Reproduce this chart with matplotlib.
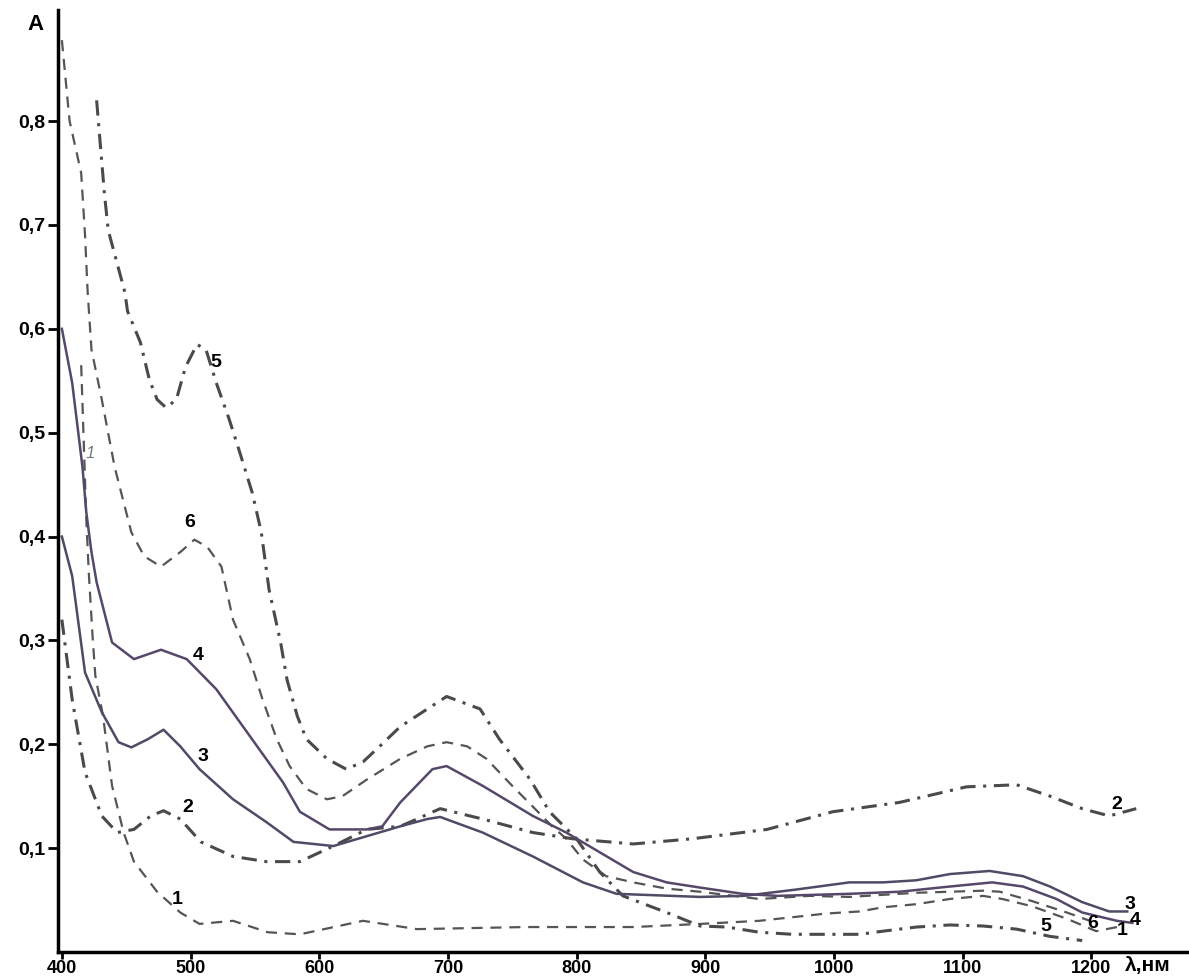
import matplotlib
matplotlib.use("Agg")
import matplotlib.pyplot as plt

plt.rcParams['font.family'] = ['Liberation Sans', 'DejaVu Sans']

# spectra, wavelength in nm / absorbance
wl1 = [415, 419, 421, 424, 426, 432, 439, 448, 456, 474, 492, 507, 533, 560, 585,
       634, 676, 760, 844, 896, 942, 994, 1020, 1038, 1064, 1090, 1116, 1131, 1154,
       1181, 1204, 1220]
a1 = [0.565, 0.416, 0.363, 0.301, 0.266, 0.227, 0.160, 0.115, 0.087, 0.058, 0.038,
      0.027, 0.030, 0.019, 0.017, 0.030, 0.022, 0.024, 0.024, 0.027, 0.030, 0.037,
      0.039, 0.043, 0.046, 0.051, 0.054, 0.051, 0.044, 0.032, 0.020, 0.024]

wl2 = [400, 408, 418, 431, 443, 456, 469, 479, 492, 508, 533, 559, 585, 611, 637,
       663, 676, 694, 727, 766, 797, 844, 890, 948, 999, 1051, 1103, 1142, 1168,
       1193, 1214, 1235]
a2 = [0.320, 0.243, 0.173, 0.131, 0.115, 0.118, 0.131, 0.136, 0.128, 0.106, 0.092,
      0.087, 0.087, 0.102, 0.118, 0.121, 0.128, 0.138, 0.128, 0.115, 0.109, 0.104,
      0.109, 0.118, 0.135, 0.144, 0.159, 0.161, 0.150, 0.138, 0.131, 0.138]

wl3 = [400, 408, 418, 431, 444, 454, 467, 479, 492, 507, 533, 559, 580, 611, 663,
       684, 694, 727, 766, 805, 831, 896, 930, 970, 1012, 1038, 1064, 1090, 1121,
       1147, 1168, 1193, 1214, 1228]
a3 = [0.400, 0.362, 0.269, 0.231, 0.202, 0.197, 0.205, 0.214, 0.198, 0.176, 0.147,
      0.125, 0.106, 0.102, 0.121, 0.128, 0.130, 0.115, 0.092, 0.067, 0.056, 0.053,
      0.054, 0.060, 0.067, 0.067, 0.069, 0.075, 0.078, 0.073, 0.063, 0.048, 0.039,
      0.039]

wl4 = [400, 408, 416, 419, 423, 427, 439, 456, 477, 497, 520, 546, 572, 585, 608,
       637, 649, 663, 688, 699, 727, 766, 792, 818, 844, 870, 896, 929, 956, 1012,
       1051, 1090, 1123, 1147, 1173, 1193, 1220, 1232]
a4 = [0.600, 0.548, 0.467, 0.423, 0.385, 0.356, 0.298, 0.282, 0.291, 0.282, 0.253,
      0.208, 0.163, 0.135, 0.118, 0.118, 0.121, 0.144, 0.176, 0.179, 0.160, 0.131,
      0.115, 0.096, 0.077, 0.067, 0.062, 0.056, 0.054, 0.056, 0.058, 0.063, 0.067,
      0.063, 0.051, 0.038, 0.030, 0.028]

wl5 = [427, 433, 436, 449, 451, 461, 468, 474, 481, 489, 496, 505, 512, 520, 530,
       538, 548, 555, 561, 570, 575, 583, 590, 606, 621, 634, 647, 663, 699, 725,
       740, 764, 779, 800, 818, 836, 870, 896, 917, 942, 968, 1020, 1038, 1064,
       1090, 1116, 1142, 1168, 1193]
a5 = [0.820, 0.731, 0.695, 0.635, 0.617, 0.587, 0.551, 0.532, 0.524, 0.532, 0.563,
      0.585, 0.580, 0.548, 0.513, 0.482, 0.442, 0.404, 0.349, 0.298, 0.262, 0.227,
      0.205, 0.186, 0.176, 0.183, 0.198, 0.217, 0.246, 0.234, 0.205, 0.166, 0.135,
      0.109, 0.077, 0.054, 0.038, 0.025, 0.024, 0.019, 0.017, 0.017, 0.020, 0.024,
      0.026, 0.025, 0.022, 0.015, 0.011]

wl6 = [400, 406, 415, 418, 420, 423, 431, 441, 454, 464, 477, 492, 503, 513, 524,
       533, 546, 556, 567, 577, 590, 606, 618, 637, 663, 684, 699, 715, 730, 750,
       766, 781, 792, 805, 823, 844, 870, 896, 942, 981, 1012, 1064, 1116, 1129,
       1154, 1181, 1199]
a6 = [0.878, 0.800, 0.750, 0.690, 0.636, 0.580, 0.532, 0.467, 0.404, 0.381, 0.371,
      0.385, 0.397, 0.390, 0.371, 0.320, 0.282, 0.243, 0.205, 0.179, 0.157, 0.147,
      0.150, 0.166, 0.186, 0.198, 0.202, 0.198, 0.186, 0.160, 0.140, 0.121, 0.109,
      0.089, 0.073, 0.067, 0.061, 0.058, 0.051, 0.054, 0.053, 0.057, 0.059, 0.058,
      0.049, 0.038, 0.030]

# curve numbers: (text, wavelength, absorbance)
labels = [("5", 520, 0.568), ("6", 499, 0.414), ("4", 506, 0.285), ("3", 510, 0.188),
          ("2", 498, 0.139), ("1", 490, 0.051),
          ("2", 1220, 0.142), ("3", 1230, 0.046), ("4", 1234, 0.030),
          ("6", 1201, 0.027), ("1", 1224, 0.021), ("5", 1165, 0.025)]

xticks = [400, 500, 600, 700, 800, 900, 1000, 1100, 1200]
yticks = [0.1, 0.2, 0.3, 0.4, 0.5, 0.6, 0.7, 0.8]
ytick_labels = ["0,1", "0,2", "0,3", "0,4", "0,5", "0,6", "0,7", "0,8"]

fig = plt.figure(figsize=(11.89, 9.8), dpi=100)
ax = fig.add_axes([0.0488, 0.0286, 0.9512, 0.9612])

gray = "#4a4a4a"
ax.plot(wl1, a1, color="#555555", lw=1.6, dashes=(5, 3.5))
ax.plot(wl6, a6, color="#555555", lw=1.6, dashes=(5, 3.5))
ax.plot(wl2, a2, color=gray, lw=2.2, dashes=(5, 2.5, 1, 2.5))
ax.plot(wl5, a5, color=gray, lw=2.2, dashes=(5, 2.5, 1, 2.5))
ax.plot(wl3, a3, color="#4f4a66", lw=1.8)
ax.plot(wl4, a4, color="#55486a", lw=1.8)

for txt, x, y in labels:
    ax.text(x, y, txt, fontsize=14, fontweight="bold", ha="center", va="center")
ax.text(422, 0.48, "1", fontsize=12, color="#777777", style="italic",
        ha="center", va="center")

ax.set_xlim(397, 1276)
ax.set_ylim(0, 0.907)
ax.set_xticks(xticks)
ax.set_xticklabels([str(t) for t in xticks], fontsize=13, fontweight="bold")
ax.set_yticks(yticks)
ax.set_yticklabels(ytick_labels, fontsize=14, fontweight="bold")
ax.tick_params(axis="y", direction="out", length=7, width=2, pad=2)
ax.tick_params(axis="x", direction="out", length=5, width=2, pad=1)

for s in ["top", "right"]:
    ax.spines[s].set_visible(False)
for s in ["left", "bottom"]:
    ax.spines[s].set_linewidth(2.5)

ax.text(-0.02, 0.985, "A", transform=ax.transAxes, fontsize=16,
        fontweight="bold", ha="center", va="center")
ax.text(1244, -0.013, "λ,нм", fontsize=15, fontweight="bold",
        ha="center", va="center", clip_on=False)

fig.savefig("out.png", dpi=100)
